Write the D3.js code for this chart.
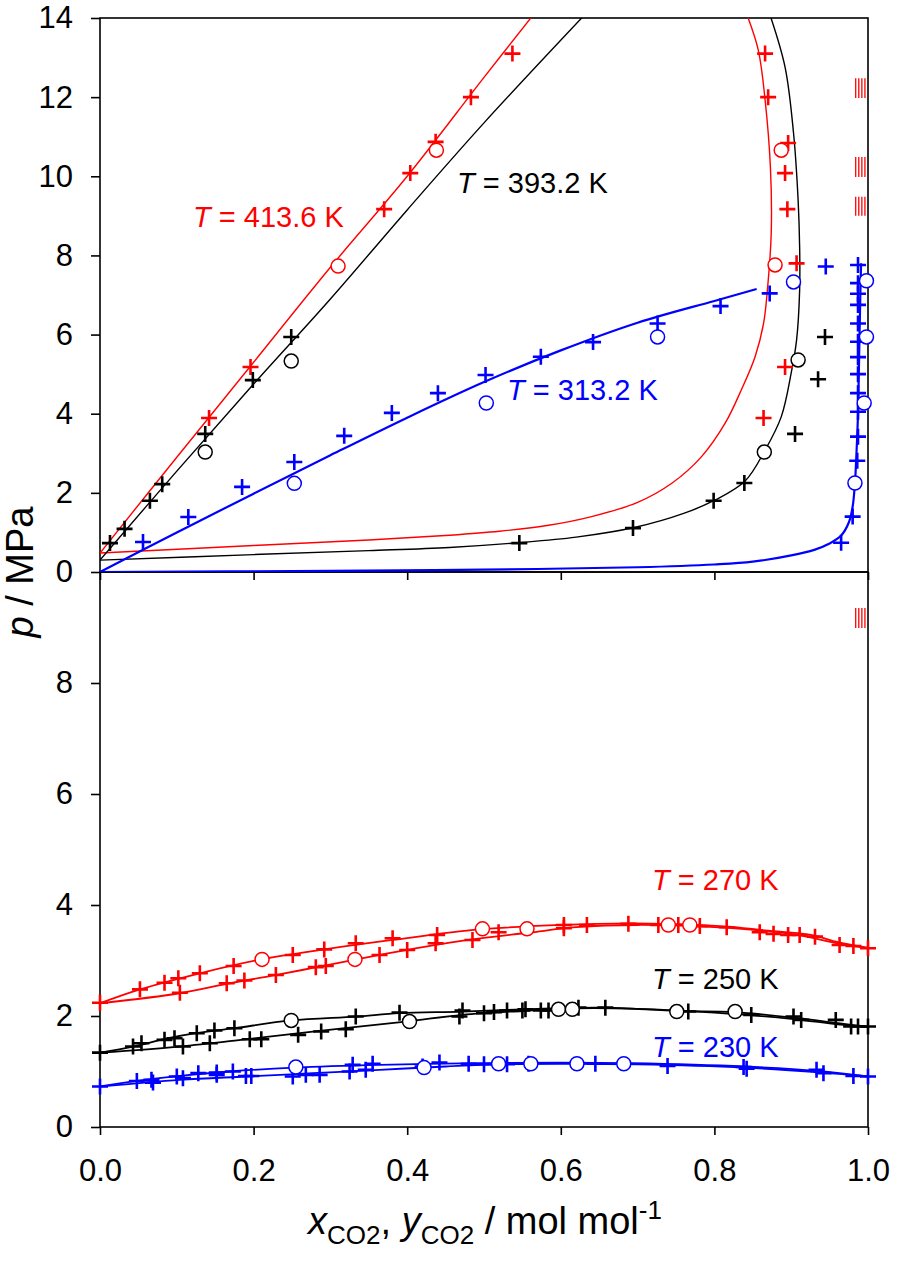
<!DOCTYPE html>
<html>
<head>
<meta charset="utf-8">
<script src="https://cdnjs.cloudflare.com/ajax/libs/d3/7.8.5/d3.min.js"></script>
<style>
  body { margin: 0; background: #fff; }
  text { font-family: "Liberation Sans", Arial, sans-serif; }
</style>
</head>
<body>
<div id="chart"></div>
<script>
// ---- data: [x or y CO2, p / MPa] ----

// top panel, T = 413.6 K
var liq4136 = [[0,0.48],[0.1,2.9],[0.2,5.3],[0.3,7.7],[0.4,10.0],[0.5,12.5],[0.565,14.1]];
var vap4136 = [[0,0.48],[0.2,0.67],[0.35,0.81],[0.455,0.93],[0.52,1.03],[0.584,1.18],[0.64,1.4],[0.7,1.76],[0.745,2.25],[0.783,2.91],[0.814,3.76],[0.835,4.6],[0.853,5.44],[0.864,6.28],[0.869,7.13],[0.874,8.57],[0.873,10.2],[0.866,11.93],[0.857,13.2],[0.842,14.1]];
var plus4136 = [[0.142,3.89],[0.196,5.18],[0.370,9.17],[0.404,10.08],[0.437,10.87],[0.483,12.0],[0.537,13.1],
  [0.866,13.1],[0.870,12.0],[0.896,10.84],[0.892,10.08],[0.895,9.17],[0.907,7.8],[0.892,5.18],[0.864,3.89]];
var circ4136 = [[0.31,7.73],[0.438,10.66],[0.887,10.66],[0.879,7.76]];

// top panel, T = 393.2 K
var liq3932 = [[0,0.3],[0.1,2.55],[0.2,4.75],[0.3,6.9],[0.4,9.15],[0.5,11.35],[0.632,14.1]];
var vap3932 = [[0,0.3],[0.2,0.44],[0.35,0.54],[0.455,0.62],[0.545,0.74],[0.62,0.88],[0.697,1.13],[0.76,1.48],[0.801,1.82],[0.84,2.3],[0.866,3.08],[0.887,3.92],[0.9,5.03],[0.907,5.86],[0.911,7.13],[0.911,8.2],[0.909,9.4],[0.903,11.1],[0.892,12.76],[0.872,14.1]];
var plus3932 = [[0.013,0.73],[0.032,1.09],[0.065,1.8],[0.081,2.22],[0.137,3.49],[0.199,4.85],[0.249,5.94],
  [0.546,0.73],[0.694,1.11],[0.799,1.8],[0.839,2.25],[0.905,3.49],[0.935,4.87],[0.944,5.94]];
var circ3932 = [[0.137,3.03],[0.249,5.33],[0.865,3.03],[0.909,5.36]];

// top panel, T = 313.2 K
var liq3132 = [[0,0],[0.1,1.0],[0.2,1.98],[0.3,2.95],[0.4,3.9],[0.5,4.8],[0.6,5.6],[0.7,6.3],[0.8,6.85],[0.855,7.15]];
var vap3132 = [[0,0],[0.3,0.03],[0.5,0.06],[0.7,0.12],[0.8,0.19],[0.85,0.26],[0.9,0.42],[0.93,0.56],[0.95,0.72],[0.965,0.92],[0.975,1.25],[0.98,1.65],[0.983,2.25],[0.985,3.0],[0.987,4.0],[0.988,5.0],[0.989,6.0],[0.99,7.0],[0.991,7.8]];
var plus3132 = [[0.056,0.76],[0.115,1.39],[0.185,2.15],[0.253,2.78],[0.318,3.44],[0.38,4.02],[0.44,4.52],[0.502,4.98],[0.574,5.44],[0.642,5.81],[0.726,6.28],[0.808,6.72],[0.872,7.04],[0.945,7.72],
  [0.965,0.74],[0.98,1.40],[0.986,2.81],[0.987,3.42],[0.987,4.05],[0.987,4.52],[0.987,5.0],[0.987,5.43],[0.987,5.82],[0.987,6.28],[0.987,6.75],[0.987,7.03],[0.987,7.30],[0.987,7.76]];
var circ3132 = [[0.253,2.24],[0.503,4.27],[0.726,5.94],[0.903,7.33],[0.998,7.36],[0.998,5.94],[0.995,4.27],[0.983,2.25]];

// bottom panel, T = 270 K
var liq270 = [[0,2.23],[0.052,2.48],[0.13,2.77],[0.21,3.02],[0.292,3.2],[0.381,3.37],[0.494,3.56],[0.6,3.64],[0.688,3.67],[0.74,3.66],[0.818,3.61],[0.861,3.55],[0.926,3.46],[0.961,3.33],[1.0,3.23]];
var vap270 = [[0,2.23],[0.104,2.41],[0.165,2.58],[0.23,2.74],[0.282,2.88],[0.334,3.02],[0.4,3.19],[0.48,3.37],[0.558,3.5],[0.62,3.6],[0.7,3.64],[0.8,3.6],[0.9,3.48],[0.96,3.31],[1.0,3.22]];
var plus270 = [[0,2.24],[0.052,2.48],[0.084,2.6],[0.102,2.68],[0.13,2.77],[0.174,2.9],[0.251,3.1],[0.292,3.2],[0.333,3.31],[0.381,3.4],[0.439,3.46],
  [0.104,2.42],[0.165,2.59],[0.188,2.64],[0.229,2.74],[0.281,2.88],[0.294,2.9],[0.364,3.1],[0.4,3.19],[0.437,3.31],[0.485,3.37],
  [0.519,3.51],[0.604,3.64],[0.604,3.58],[0.634,3.64],[0.688,3.66],[0.727,3.64],[0.753,3.64],[0.781,3.62],[0.816,3.6],[0.859,3.51],[0.877,3.48],[0.896,3.46],[0.911,3.46],[0.931,3.43],[0.963,3.28],[0.981,3.26],[1.0,3.22]];
var circ270 = [[0.211,3.02],[0.332,3.02],[0.498,3.57],[0.556,3.57],[0.74,3.64],[0.768,3.64]];

// bottom panel, T = 250 K
var liq250 = [[0,1.34],[0.043,1.45],[0.089,1.6],[0.125,1.69],[0.175,1.78],[0.249,1.92],[0.333,1.99],[0.39,2.05],[0.472,2.08],[0.597,2.14],[0.658,2.15],[0.753,2.09],[0.827,2.07],[0.909,1.96],[0.961,1.87],[1.0,1.81]];
var vap250 = [[0,1.34],[0.104,1.45],[0.19,1.58],[0.277,1.72],[0.398,1.9],[0.472,2.02],[0.55,2.09],[0.62,2.14],[0.7,2.13],[0.8,2.06],[0.9,1.95],[0.96,1.85],[1.0,1.8]];
var plus250 = [[0.043,1.45],[0.054,1.51],[0.084,1.57],[0.097,1.6],[0.126,1.69],[0.149,1.74],[0.175,1.78],[0.333,1.99],[0.39,2.06],[0.472,2.1],
  [0,1.34],[0.108,1.45],[0.143,1.51],[0.195,1.58],[0.21,1.58],[0.258,1.66],[0.288,1.72],[0.32,1.76],[0.468,1.99],
  [0.5,2.05],[0.513,2.07],[0.53,2.1],[0.55,2.1],[0.554,2.12],[0.574,2.1],[0.584,2.1],[0.623,2.15],[0.658,2.15],[0.766,2.08],[0.848,2.02],[0.903,1.99],[0.913,1.93],[0.958,1.93],[0.978,1.81],[0.987,1.81],[1.0,1.81]];
var circ250 = [[0.249,1.92],[0.403,1.9],[0.597,2.12],[0.615,2.12],[0.751,2.08],[0.827,2.08]];

// bottom panel, T = 230 K
var liq230 = [[0,0.73],[0.048,0.83],[0.104,0.92],[0.169,1.0],[0.253,1.07],[0.364,1.12],[0.494,1.15],[0.6,1.16],[0.692,1.15],[0.84,1.09],[0.935,1.01],[1.0,0.91]];
var vap230 = [[0,0.73],[0.104,0.85],[0.19,0.91],[0.277,0.97],[0.364,1.03],[0.45,1.09],[0.52,1.13],[0.6,1.14],[0.7,1.13],[0.84,1.07],[0.94,0.98],[1.0,0.91]];
var plus230 = [[0,0.73],[0.048,0.83],[0.067,0.85],[0.1,0.91],[0.128,0.97],[0.152,0.98],[0.173,1.0],[0.329,1.12],[0.355,1.14],[0.442,1.16],
  [0.069,0.8],[0.108,0.88],[0.152,0.94],[0.19,0.92],[0.197,0.92],[0.251,0.91],[0.268,0.94],[0.286,0.94],[0.325,1.0],[0.346,1.03],[0.42,1.09],[0.48,1.14],
  [0.5,1.13],[0.53,1.13],[0.558,1.14],[0.645,1.14],[0.739,1.1],[0.838,1.08],[0.842,1.05],[0.933,1.03],[0.942,0.97],[0.981,0.92],[1.0,0.91]];
var circ230 = [[0.255,1.08],[0.422,1.07],[0.519,1.14],[0.561,1.14],[0.621,1.14],[0.682,1.14]];

// small red bar marks near the right edge (p range)
var barsTop = [[11.98,12.48],[9.98,10.49],[9.0,9.48]];
var barsBot = [[8.99,9.35]];
var barX = [0.984,0.988,0.992,0.996];

// ticks
var xTicks = [0,0.2,0.4,0.6,0.8,1.0];
var yTicksTop = [0,2,4,6,8,10,12,14];
var yTicksBot = [0,2,4,6,8];

// ---- drawing ----
var W = 898, H = 1270;
var svg = d3.select('#chart').append('svg')
  .attr('width', W).attr('height', H);

var x = d3.scaleLinear().domain([0,1]).range([100,868]);
var yTop = d3.scaleLinear().domain([0,14]).range([572,18]);
var yBot = d3.scaleLinear().domain([0,10]).range([1127,572]);

svg.append('clipPath').attr('id','clipTop').append('rect')
  .attr('x',100).attr('y',18).attr('width',768).attr('height',554);
svg.append('clipPath').attr('id','clipBot').append('rect')
  .attr('x',100).attr('y',572).attr('width',768).attr('height',555);

function panel(y, clip, sets) {
  // only the model lines are clipped, markers may stick out
  var gl = svg.append('g').attr('clip-path','url(#' + clip + ')');
  var gm = svg.append('g');
  var line = d3.line()
    .x(function(d){return x(d[0]);})
    .y(function(d){return y(d[1]);})
    .curve(d3.curveCatmullRom.alpha(0.5));

  sets.forEach(function(s){
    s.lines.forEach(function(l){
      gl.append('path').datum(l)
        .attr('d', line)
        .attr('fill','none')
        .attr('stroke', s.color)
        .attr('stroke-width', s.lw);
    });
  });
  sets.forEach(function(s){
    gm.selectAll(null).data(s.plus).enter().append('path')
      .attr('d','M-8,0H8M0,-8V8')
      .attr('transform', function(d){return 'translate(' + x(d[0]) + ',' + y(d[1]) + ')';})
      .attr('stroke', s.color)
      .attr('stroke-width', 2.6)
      .attr('fill','none');
  });
  sets.forEach(function(s){
    gm.selectAll(null).data(s.circ).enter().append('circle')
      .attr('cx', function(d){return x(d[0]);})
      .attr('cy', function(d){return y(d[1]);})
      .attr('r', 7)
      .attr('fill','#fff')
      .attr('stroke', s.color)
      .attr('stroke-width', 1.5);
  });
}

// frames (under the markers)
svg.append('rect').attr('x',100).attr('y',18).attr('width',768).attr('height',554)
  .attr('fill','none').attr('stroke','#000').attr('stroke-width',1.6);
svg.append('rect').attr('x',100).attr('y',572).attr('width',768).attr('height',555)
  .attr('fill','none').attr('stroke','#000').attr('stroke-width',1.6);

panel(yTop, 'clipTop', [
  {color:'#ff0000', lw:1.4, lines:[liq4136, vap4136], plus:plus4136, circ:circ4136},
  {color:'#000000', lw:1.4, lines:[liq3932, vap3932], plus:plus3932, circ:circ3932},
  {color:'#0000ff', lw:2.2, lines:[liq3132, vap3132], plus:plus3132, circ:circ3132}
]);
panel(yBot, 'clipBot', [
  {color:'#ff0000', lw:1.8, lines:[liq270, vap270], plus:plus270, circ:circ270},
  {color:'#000000', lw:1.8, lines:[liq250, vap250], plus:plus250, circ:circ250},
  {color:'#0000ff', lw:1.8, lines:[liq230, vap230], plus:plus230, circ:circ230}
]);

// red bar marks
function bars(y, list) {
  list.forEach(function(b){
    svg.selectAll(null).data(barX).enter().append('line')
      .attr('x1', function(d){return x(d);}).attr('x2', function(d){return x(d);})
      .attr('y1', y(b[0])).attr('y2', y(b[1]))
      .attr('stroke','#ff0000').attr('stroke-width',1.3);
  });
}
bars(yTop, barsTop);
bars(yBot, barsBot);

// axes
function styleAxis(g) {
  g.select('.domain').remove();
  g.selectAll('.tick line').attr('stroke','#000').attr('stroke-width',1.6);
  g.selectAll('.tick text').attr('fill','#000').style('font-size','31px')
    .style('font-family','"Liberation Sans", Arial, sans-serif');
}

svg.append('g').attr('transform','translate(100,0)')
  .call(d3.axisLeft(yTop).tickValues(yTicksTop).tickSize(9).tickPadding(18).tickFormat(d3.format('d')))
  .call(styleAxis);
svg.append('g').attr('transform','translate(100,0)')
  .call(d3.axisLeft(yBot).tickValues(yTicksBot).tickSize(9).tickPadding(18).tickFormat(d3.format('d')))
  .call(styleAxis);
svg.append('g').attr('transform','translate(0,572)')
  .call(d3.axisBottom(x).tickValues(xTicks).tickSize(8).tickFormat(''))
  .call(styleAxis);
svg.append('g').attr('transform','translate(0,1127)')
  .call(d3.axisBottom(x).tickValues(xTicks).tickSize(8).tickPadding(24).tickFormat(d3.format('.1f')))
  .call(styleAxis);

// temperature labels
var labels = [
  {t:'413.6', color:'#ff0000', x:193, y:227},
  {t:'393.2', color:'#000000', x:457, y:193},
  {t:'313.2', color:'#0000ff', x:507, y:400},
  {t:'270', color:'#ff0000', x:652, y:890},
  {t:'250', color:'#000000', x:652, y:989},
  {t:'230', color:'#0000ff', x:652, y:1057}
];
labels.forEach(function(l){
  var t = svg.append('text').attr('x', l.x).attr('y', l.y)
    .attr('fill', l.color).style('font-size','29px');
  t.append('tspan').style('font-style','italic').text('T');
  t.append('tspan').text(' = ' + l.t + ' K');
});

// axis titles
var xt = svg.append('text').attr('x', 485).attr('y', 1234)
  .attr('text-anchor','middle').style('font-size','38px');
xt.append('tspan').style('font-style','italic').text('x');
xt.append('tspan').style('font-size','26px').attr('dy', 10).text('CO2');
xt.append('tspan').attr('dy', -10).text(', ');
xt.append('tspan').style('font-style','italic').text('y');
xt.append('tspan').style('font-size','26px').attr('dy', 10).text('CO2');
xt.append('tspan').attr('dy', -10).text(' / mol mol');
xt.append('tspan').style('font-size','26px').attr('dy', -15).text('-1');

var yt = svg.append('text')
  .attr('transform','translate(33,572) rotate(-90)')
  .attr('text-anchor','middle').style('font-size','38px');
yt.append('tspan').style('font-style','italic').text('p');
yt.append('tspan').text(' / MPa');
</script>
</body>
</html>
